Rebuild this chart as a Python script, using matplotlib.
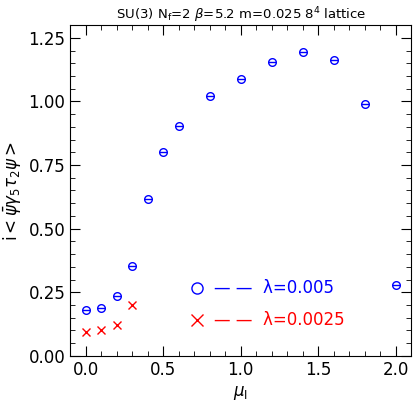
import matplotlib
matplotlib.use("Agg")
import matplotlib.pyplot as plt
from matplotlib.ticker import MultipleLocator

mu_b = [0.0, 0.1, 0.2, 0.3, 0.4, 0.5, 0.6, 0.8, 1.0, 1.2, 1.4, 1.6, 1.8, 2.0]
val_b = [0.18, 0.19, 0.235, 0.355, 0.615, 0.80, 0.905, 1.02, 1.09, 1.155, 1.195, 1.162, 0.99, 0.28]
mu_r = [0.0, 0.1, 0.2, 0.3]
val_r = [0.095, 0.10, 0.12, 0.20]

fig = plt.figure(figsize=(4.15, 4.11), dpi=100)
ax = fig.add_axes([0.169, 0.134, 0.822, 0.805])
ax.plot(mu_b, val_b, 'o', mfc='none', mec='blue', ms=5.5, mew=1)
ax.plot(mu_b, val_b, '_', color='blue', ms=5.5, mew=1)
ax.plot(mu_r, val_r, 'x', color='red', ms=5.5, mew=1)
ax.set_xlim(-0.1, 2.1)
ax.set_ylim(0, 1.3)
ax.xaxis.set_major_locator(MultipleLocator(0.5))
ax.xaxis.set_minor_locator(MultipleLocator(0.1))
ax.yaxis.set_major_locator(MultipleLocator(0.25))
ax.yaxis.set_minor_locator(MultipleLocator(0.05))
ax.xaxis.set_major_formatter(plt.FuncFormatter(lambda v, p: f"{v:.1f}"))
ax.yaxis.set_major_formatter(plt.FuncFormatter(lambda v, p: f"{v:.2f}"))
ax.tick_params(which='both', direction='in', top=True, right=True, labelsize=12)
ax.tick_params(which='major', length=7)
ax.tick_params(which='minor', length=3.5)
ax.set_xlabel(r'$\mu_{\rm I}$', fontsize=12)
ax.set_ylabel(r'i$<\bar{\psi}\gamma_5\tau_2\psi>$', fontsize=12)
ax.set_title(r'SU(3) N$_{\rm f}$=2 $\beta$=5.2 m=0.025 8$^4$ lattice', fontsize=9.5, pad=4)
ax.plot([0.72], [0.265], 'o', mfc='none', mec='blue', ms=8, mew=1)
ax.text(0.83, 0.265, '— —  λ=0.005', color='blue', fontsize=12, va='center')
ax.plot([0.72], [0.14], 'x', color='red', ms=8, mew=1)
ax.text(0.83, 0.14, '— —  λ=0.0025', color='red', fontsize=12, va='center')
fig.savefig('out.png', dpi=100)
